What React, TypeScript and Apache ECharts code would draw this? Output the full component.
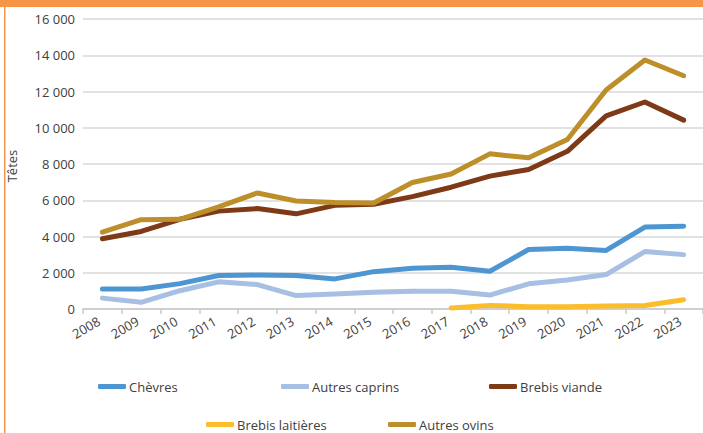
import React, { useEffect, useRef } from "react";
import * as echarts from "echarts";

const years = ["2008","2009","2010","2011","2012","2013","2014","2015","2016","2017","2018","2019","2020","2021","2022","2023"];
const chevres = [1100, 1100, 1400, 1850, 1870, 1850, 1660, 2060, 2250, 2300, 2080, 3280, 3350, 3230, 4520, 4570];
const autresCaprins = [600, 370, 1010, 1500, 1350, 740, 830, 920, 980, 980, 770, 1390, 1600, 1900, 3170, 3000];
const brebisViande = [3880, 4280, 4950, 5400, 5540, 5250, 5720, 5780, 6200, 6720, 7330, 7700, 8700, 10650, 11420, 10420];
const brebisLaitieres = [null, null, null, null, null, null, null, null, null, 60, 200, 130, 130, 170, 190, 510];
const autresOvins = [4240, 4930, 4950, 5630, 6400, 5960, 5870, 5850, 6980, 7450, 8560, 8340, 9350, 12080, 13740, 12870];

const seriesNames = ["Chèvres", "Autres caprins", "Brebis viande", "Brebis laitières", "Autres ovins"];
const seriesData = [chevres, autresCaprins, brebisViande, brebisLaitieres, autresOvins];
const colors = ["#4e96d1", "#a6bfe2", "#7e3a17", "#fbbd2c", "#bd8f2b"];

const FONT = "'Open Sans', sans-serif";
const TEXT = "#404040";

export default function App() {
  const ref = useRef<HTMLDivElement>(null);
  useEffect(() => {
    document.body.style.margin = "0";
    const chart = echarts.init(ref.current!, null, { renderer: "svg" });
    const legendPos = [
      { left: 98, top: 380 },
      { left: 281, top: 380 },
      { left: 489, top: 380 },
      { left: 206, top: 418 },
      { left: 388, top: 418 },
    ];
    chart.setOption({
      animation: false,
      textStyle: { fontFamily: FONT },
      grid: { left: 83, top: 19, width: 622, height: 290, containLabel: false },
      legend: seriesNames.map((n, i) => ({
        data: [n],
        left: legendPos[i].left,
        top: legendPos[i].top,
        padding: 0,
        icon: "roundRect",
        itemWidth: 28,
        itemHeight: 5,
        itemGap: 0,
        selectedMode: false,
        textStyle: { color: TEXT, fontSize: 13, fontFamily: FONT, padding: [0, 0, 0, -2] },
      })),
      xAxis: {
        type: "category",
        data: years,
        boundaryGap: true,
        axisLine: { show: true, lineStyle: { color: "#c8c8c8", width: 1.5 } },
        axisTick: { show: true, interval: 0, length: 5, lineStyle: { color: "#c8c8c8", width: 1.5 } },
        axisLabel: { interval: 0, rotate: 30, margin: 9, padding: [0, 4, 0, 0], color: TEXT, fontSize: 13, fontFamily: FONT },
      },
      yAxis: {
        type: "value",
        min: 0,
        max: 16000,
        interval: 2000,
        axisLine: { show: false },
        axisTick: { show: false },
        splitLine: { show: true, lineStyle: { color: "#d9d9d9", width: 1.5 } },
        axisLabel: {
          margin: 8,
          color: TEXT,
          fontSize: 13,
          fontFamily: FONT,
          formatter: (v: number) => String(v).replace(/\B(?=(\d{3})+(?!\d))/g, " "),
        },
      },
      graphic: [
        { type: "rect", left: 0, top: 0, shape: { width: 703, height: 7 }, style: { fill: "#f79546" } },
        { type: "rect", left: 4, top: 0, shape: { width: 1.5, height: 433 }, style: { fill: "#f79546" } },
        {
          type: "text",
          x: 12,
          y: 166,
          rotation: Math.PI / 2,
          style: { text: "Têtes", fill: TEXT, font: `13px ${FONT}`, align: "center", verticalAlign: "middle" },
        },
      ],
      series: seriesNames.map((n, i) => ({
        name: n,
        type: "line",
        data: seriesData[i],
        color: colors[i],
        symbol: "none",
        showSymbol: false,
        smooth: false,
        connectNulls: false,
        lineStyle: { width: 5, color: colors[i], cap: "round", join: "round" },
      })),
    });
    return () => chart.dispose();
  }, []);
  return <div ref={ref} style={{ width: 703, height: 433 }} />;
}
